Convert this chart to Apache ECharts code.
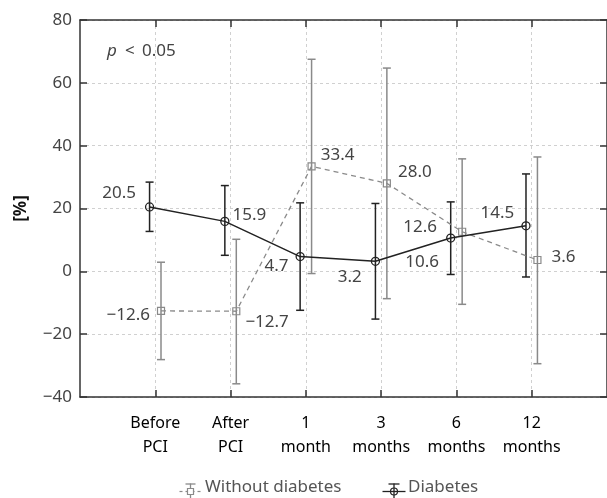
<!DOCTYPE html>
<html>
<head>
<meta charset="utf-8">
<script src="https://cdn.jsdelivr.net/npm/echarts@6/dist/echarts.min.js"></script>
<style>
html,body{margin:0;padding:0;background:#fff;}
#chart{width:607px;height:498px;}
</style>
</head>
<body>
<div id="chart"></div>
<script>
var categories = ['Before\nPCI', 'After\nPCI', '1\nmonth', '3\nmonths', '6\nmonths', '12\nmonths'];
var diabetesMean = [20.5, 15.9, 4.7, 3.2, 10.6, 14.5];
var diabetesLow = [12.7, 5.1, -12.4, -15.2, -1.0, -1.8];
var diabetesHigh = [28.4, 27.3, 21.8, 21.6, 22.1, 31.0];
var withoutMean = [-12.6, -12.7, 33.4, 28.0, 12.6, 3.6];
var withoutLow = [-28.1, -35.8, -0.7, -8.7, -10.5, -29.4];
var withoutHigh = [2.9, 10.2, 67.5, 64.7, 35.8, 36.4];
var yTicks = [-40, -20, 0, 20, 40, 60, 80];

var FONT = 'Noto Sans';
var TXT = '#444';
var DCOL = '#222';
var WCOL = '#8a8a8a';
var OFF = 0.076;

function fmt(v){ return String(v).replace('-', '\u2212'); }
function fmtFixed(v){ return v.toFixed(1).replace('-', '\u2212'); }

// label placements: [position, dx, dy]
var dLab = [['left',-4,-14],['right',-2,-6],['left',-2,10],['left',-4,16],['left',-2,24],['left',-2,-13]];
var wLab = [['left',-2,4],['right',0,11],['right',0,-11],['right',2,-11],['left',-16,-5],['right',5,-3]];

function lineData(mean, off, lab){
  return mean.map(function(v,i){
    return {value:[i+off, v], label:{show:true, position:lab[i][0], offset:[lab[i][1], lab[i][2]],
      formatter: fmtFixed(v), color:TXT, fontSize:17, fontFamily:FONT}};
  });
}
function errData(low, high, off){
  return low.map(function(l,i){ return [i+off, l, high[i]]; });
}
function errRender(color){
  return function(params, api){
    var x = api.value(0);
    var lo = api.coord([x, api.value(1)]);
    var hi = api.coord([x, api.value(2)]);
    var cw = 4;
    var st = {stroke:color, lineWidth:1.5};
    return {type:'group', children:[
      {type:'line', shape:{x1:lo[0], y1:lo[1], x2:hi[0], y2:hi[1]}, style:st},
      {type:'line', shape:{x1:lo[0]-cw, y1:lo[1], x2:lo[0]+cw, y2:lo[1]}, style:st},
      {type:'line', shape:{x1:hi[0]-cw, y1:hi[1], x2:hi[0]+cw, y2:hi[1]}, style:st}
    ]};
  };
}

var chart = echarts.init(document.getElementById('chart'), null, {renderer:'canvas'});

var axisLine = {show:true, onZero:false, lineStyle:{color:'#333', width:1.5}};
var split = {show:true, lineStyle:{color:'#d0d0d0', type:[3,3], width:1}};
var tick = {show:true, inside:true, length:7, lineStyle:{color:'#333', width:1.5}};
var xTick = {show:true, inside:true, length:7, lineStyle:{color:'#333', width:1.5}, customValues:[0,1,2,3,4,5]};

var option = {
  animation:false,
  backgroundColor:'#fff',
  grid:{left:80, right:-1, top:20, bottom:101, containLabel:false},
  xAxis:[{
    type:'value', min:-1, max:6, interval:1, position:'bottom',
    axisLine:axisLine, axisTick:xTick, splitLine:split,
    axisLabel:{margin:14, color:'#000', fontSize:16, fontFamily:FONT, lineHeight:24,
      customValues:[0,1,2,3,4,5],
      formatter:function(v){ return categories[Math.round(v)] || ''; }}
  },{
    type:'value', min:-1, max:6, interval:1, position:'top',
    axisLine:axisLine, axisTick:xTick,
    splitLine:{show:false}, axisLabel:{show:false}
  }],
  yAxis:[{
    type:'value', min:-40, max:80, interval:20, position:'left',
    axisLine:axisLine, axisTick:tick, splitLine:split,
    axisLabel:{margin:8, color:TXT, fontSize:17, fontFamily:FONT,
      formatter:function(v){ return yTicks.indexOf(v) >= 0 ? fmt(v) : ''; }},
    name:'[%]', nameLocation:'middle', nameGap:50, nameRotate:90,
    nameTextStyle:{color:'#111', fontSize:17, fontWeight:'bold', fontFamily:FONT}
  },{
    type:'value', min:-40, max:80, interval:20, position:'right',
    axisLine:axisLine, axisTick:tick,
    splitLine:{show:false}, axisLabel:{show:false}
  }],
  graphic:[
    {type:'text', left:107, top:43, style:{text:'p', font:'italic 17px "Noto Sans"', fill:TXT}},
    {type:'text', left:125, top:43, style:{text:'<', font:'17px "Noto Sans"', fill:TXT}},
    {type:'text', left:142, top:43, style:{text:'0.05', font:'17px "Noto Sans"', fill:TXT}},
    // legend: Without diabetes
    {type:'group', left:177, top:481, children:[
      {type:'line', shape:{x1:0, y1:8, x2:22, y2:8}, style:{stroke:WCOL, lineWidth:1.2, lineDash:[3,3]}},
      {type:'line', shape:{x1:11, y1:0, x2:11, y2:16}, style:{stroke:WCOL, lineWidth:1.3}},
      {type:'line', shape:{x1:6, y1:0.5, x2:16, y2:0.5}, style:{stroke:WCOL, lineWidth:1.3}},
      {type:'rect', shape:{x:8, y:5, width:6, height:6}, style:{stroke:WCOL, fill:'#fff', lineWidth:1.2}}
    ]},
    {type:'text', left:205, top:479, style:{text:'Without diabetes', font:'17px "Noto Sans"', fill:'#555'}},
    // legend: Diabetes
    {type:'group', left:380, top:481, children:[
      {type:'line', shape:{x1:0, y1:8, x2:23, y2:8}, style:{stroke:DCOL, lineWidth:1.3}},
      {type:'line', shape:{x1:11.5, y1:0, x2:11.5, y2:16}, style:{stroke:DCOL, lineWidth:1.3}},
      {type:'line', shape:{x1:6, y1:0.5, x2:17, y2:0.5}, style:{stroke:DCOL, lineWidth:1.3}},
      {type:'circle', shape:{cx:11.5, cy:8, r:3.5}, style:{stroke:DCOL, fill:'none', lineWidth:1.2}}
    ]},
    {type:'text', left:408, top:479, style:{text:'Diabetes', font:'17px "Noto Sans"', fill:'#555'}}
  ],
  series:[
    {type:'custom', name:'Without diabetes err', xAxisIndex:0, yAxisIndex:0,
      renderItem:errRender(WCOL), data:errData(withoutLow, withoutHigh, OFF), z:2},
    {type:'custom', name:'Diabetes err', xAxisIndex:0, yAxisIndex:0,
      renderItem:errRender(DCOL), data:errData(diabetesLow, diabetesHigh, -OFF), z:3},
    {type:'line', name:'Without diabetes', xAxisIndex:0, yAxisIndex:0,
      data:lineData(withoutMean, OFF, wLab),
      symbol:'rect', symbolSize:7,
      lineStyle:{color:WCOL, width:1.3, type:[5,4]},
      itemStyle:{color:'rgba(0,0,0,0)', borderColor:WCOL, borderWidth:1.2}, z:4},
    {type:'line', name:'Diabetes', xAxisIndex:0, yAxisIndex:0,
      data:lineData(diabetesMean, -OFF, dLab),
      symbol:'circle', symbolSize:8,
      lineStyle:{color:DCOL, width:1.5},
      itemStyle:{color:'rgba(0,0,0,0)', borderColor:DCOL, borderWidth:1.3}, z:5}
  ]
};
chart.setOption(option);
</script>
</body>
</html>
